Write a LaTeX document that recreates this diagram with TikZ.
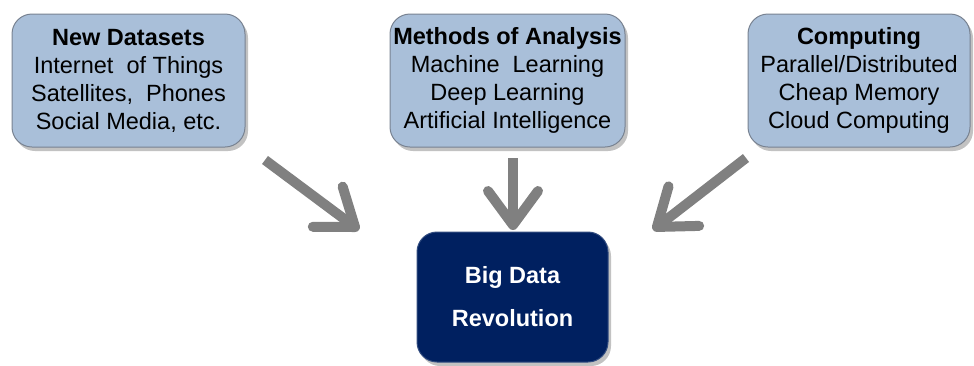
\documentclass[tikz,border=0pt]{standalone}
\usepackage{fontspec}
\setmainfont{Liberation Sans}
\usetikzlibrary{arrows.meta,shadows}
\definecolor{boxfill}{RGB}{169,191,217}
\definecolor{boxline}{RGB}{120,130,145}
\definecolor{navy}{RGB}{0,32,96}
\definecolor{arrowgray}{RGB}{128,128,128}
\tikzset{
  srcbox/.style={draw=boxline, line width=1pt, fill=boxfill, rounded corners=20pt,
    align=center, inner sep=0pt, font=\fontsize{23.5}{28}\selectfont,
    drop shadow={shadow xshift=3pt, shadow yshift=-4pt, opacity=0.4, fill=black!60}},
  bigbox/.style={draw=navy!80!white, line width=1pt, fill=navy, rounded corners=20pt,
    align=center, inner sep=0pt, text=white, font=\fontsize{23.5}{43}\selectfont\bfseries,
    drop shadow={shadow xshift=3pt, shadow yshift=-4pt, opacity=0.4, fill=black!60}},
  bigarrow/.style={draw=arrowgray, line width=10pt,
    -{Straight Barb[length=34pt,width=50pt,round]}}
}
\begin{document}
\begin{tikzpicture}[x=1pt,y=-1pt]
\useasboundingbox (0,0) rectangle (974,365);
\node[srcbox, minimum width=233pt, minimum height=133pt] (data) at (128.5,80.5)
  {\textbf{New Datasets}\\Internet\ \ of Things\\Satellites,\ \ Phones\\Social Media, etc.};
\node[srcbox, minimum width=235pt, minimum height=133pt] (methods) at (507.5,80.5)
  {\textbf{Methods of Analysis}\\Machine\ \ Learning\\Deep Learning\\Artificial Intelligence};
\node[srcbox, minimum width=222pt, minimum height=133pt] (computing) at (859,80.5)
  {\textbf{Computing}\\Parallel/Distributed\\Cheap Memory\\Cloud Computing};
\node[bigbox, minimum width=191pt, minimum height=130pt] (bigdata) at (512.5,297)
  {Big Data\\Revolution};
\coordinate (t1) at (265,160);
\coordinate (h1) at (359,230);
\coordinate (t2) at (513,158);
\coordinate (h2) at (513,230);
\coordinate (t3) at (746,158);
\coordinate (h3) at (653,230);
\draw[bigarrow] (t1) -- (h1);
\draw[bigarrow] (t2) -- (h2);
\draw[bigarrow] (t3) -- (h3);
\end{tikzpicture}
\end{document}
